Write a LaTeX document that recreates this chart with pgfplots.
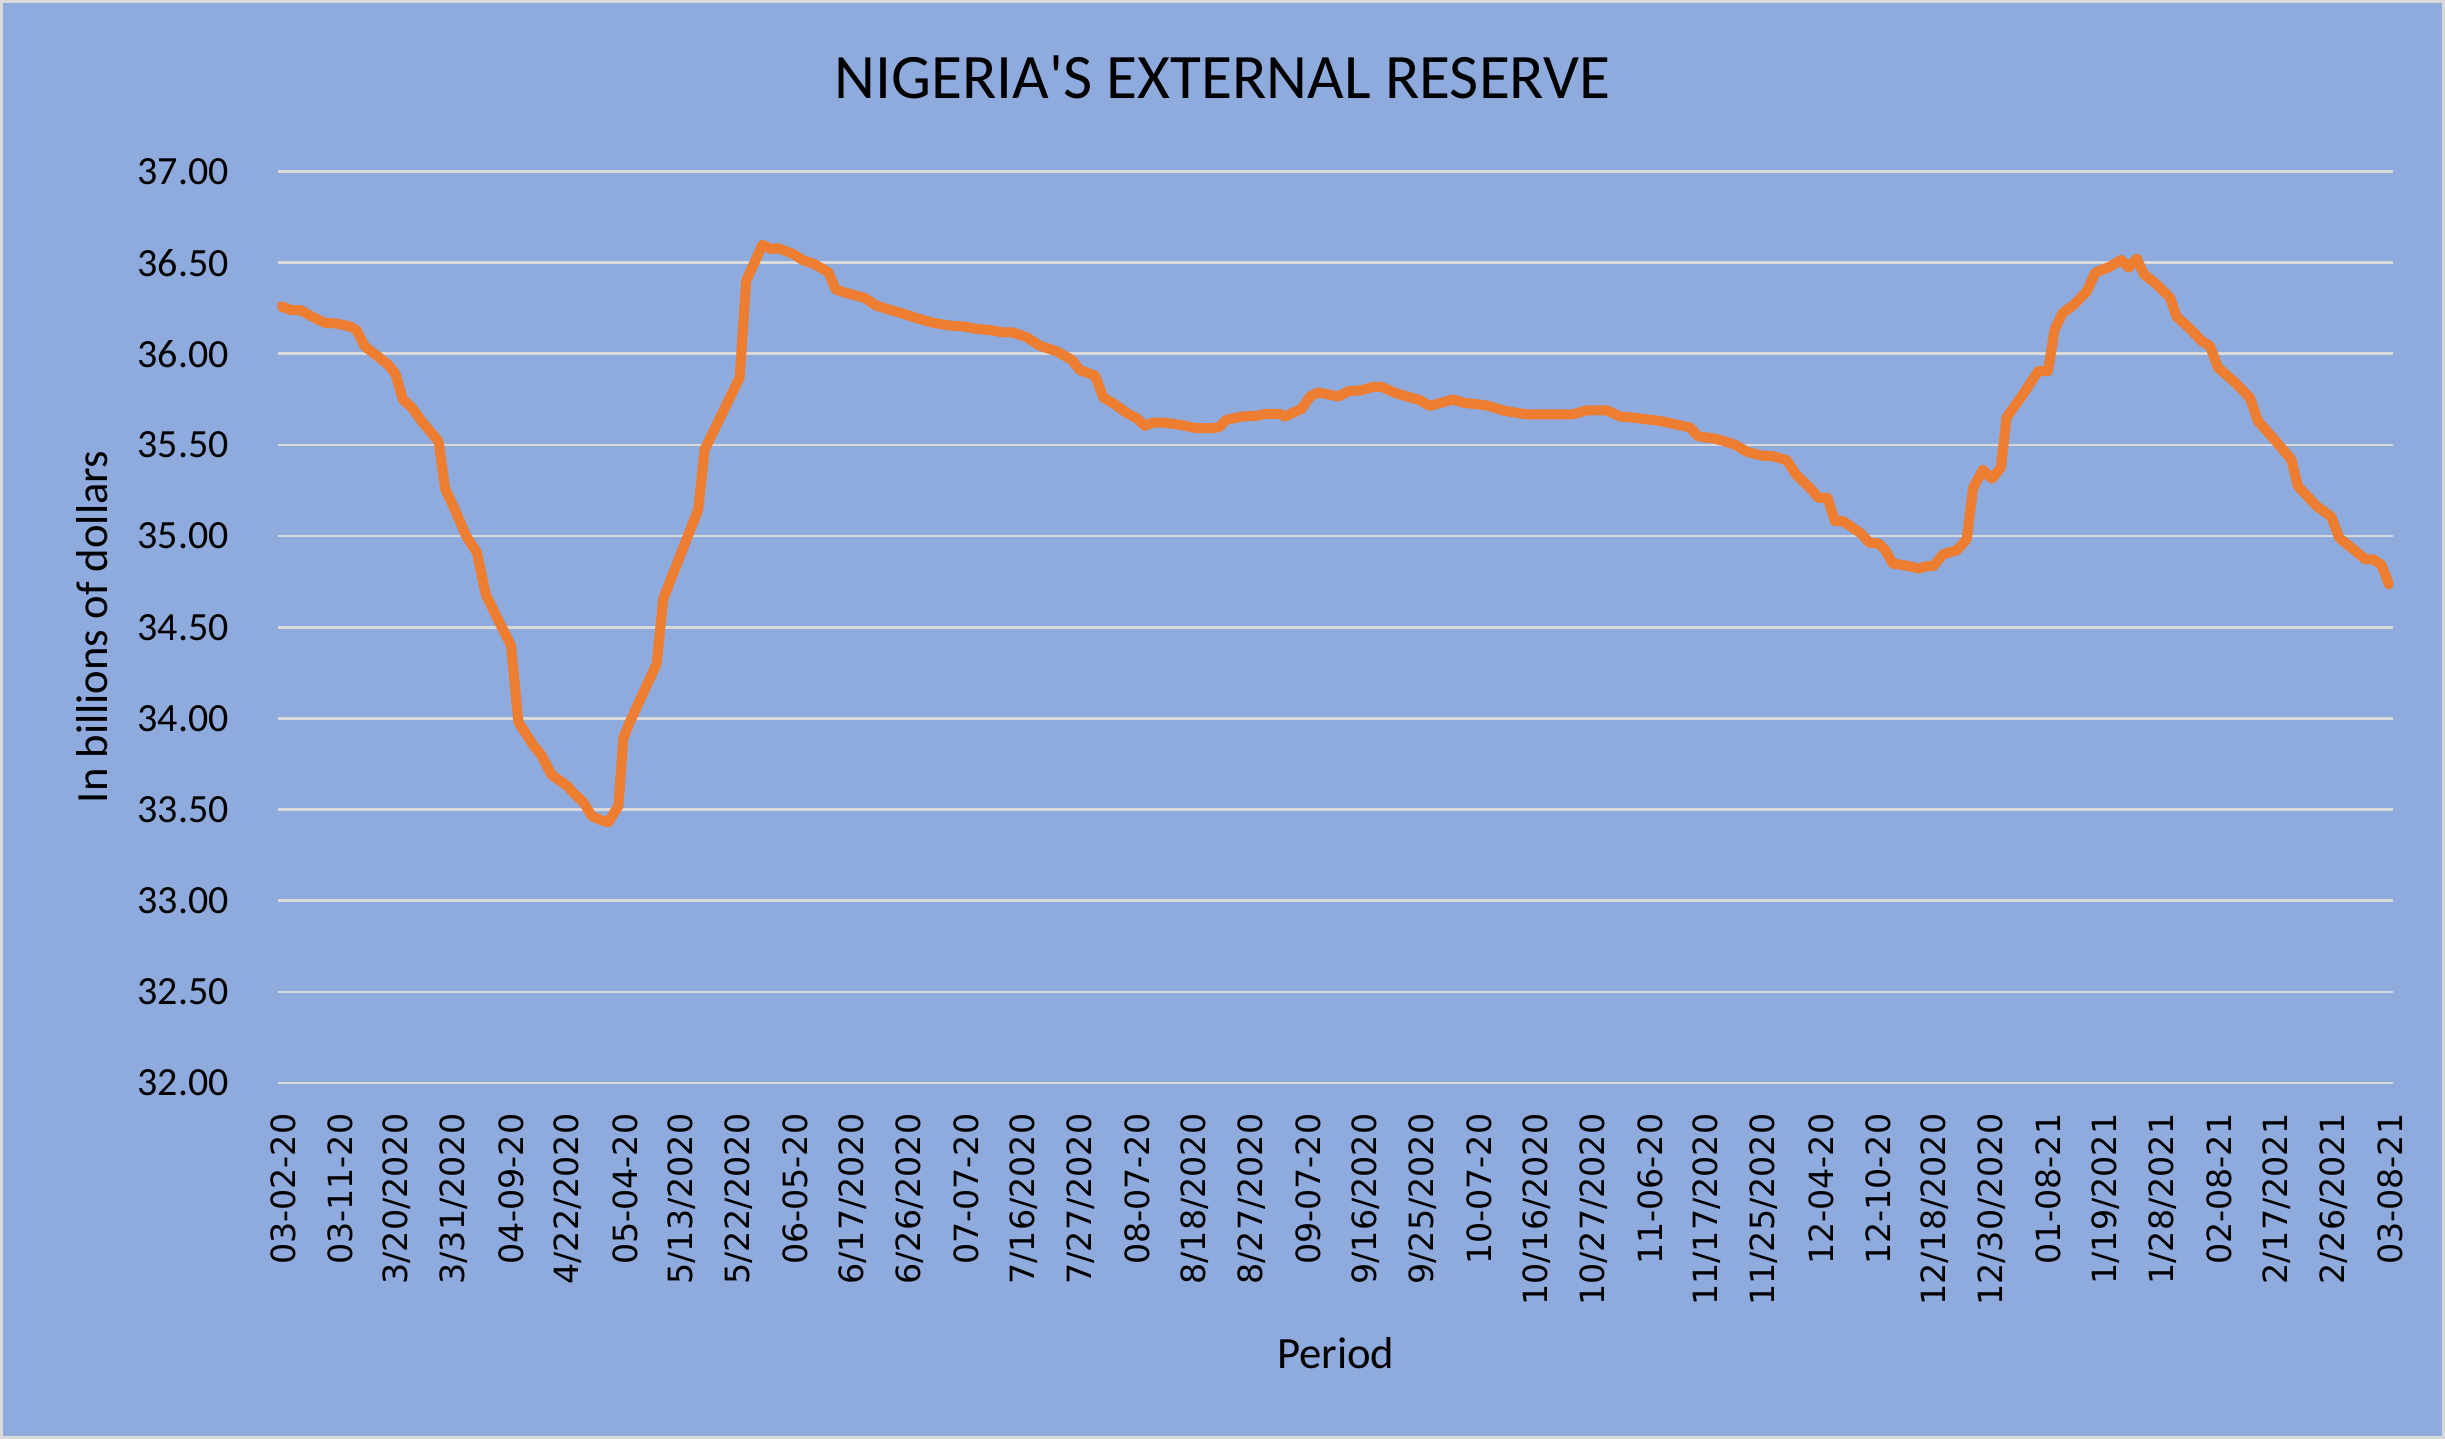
\documentclass[border=0pt]{standalone}
\usepackage{pgfplots}
\pgfplotsset{compat=1.18}
\usepackage{fontspec}
\setmainfont{Carlito}
\newfontfamily\dejavu{DejaVu Sans}
\definecolor{bgblue}{HTML}{8FAADC}
\definecolor{gridgray}{HTML}{D9D9D9}
\definecolor{reserveorange}{HTML}{ED7D31}

\begin{document}
\begin{tikzpicture}
\fill[bgblue] (0,0) rectangle (733.5pt,431.7pt);
\begin{axis}[
  at={(83.25pt,106.8pt)}, anchor=south west,
  scale only axis, width=634.65pt, height=273.45pt,
  xmin=0, xmax=260, ymin=32, ymax=37,
  axis line style={draw=none},
  tick style={draw=none},
  major tick length=0pt,
  ytick={32,32.5,33,33.5,34,34.5,35,35.5,36,36.5,37},
  ymajorgrids,
  grid style={gridgray, line width=0.8pt},
  yticklabel style={/pgf/number format/fixed, /pgf/number format/fixed zerofill,
    /pgf/number format/precision=2, /pgf/number format/assume math mode=true,
    font=\fontsize{12}{14}\selectfont, inner sep=0pt, anchor=east, xshift=-14.4pt},
  xtick={0.7,7.7,...,259.7},
  xticklabels={03-02-20,03-11-20,3/20/2020,3/31/2020,04-09-20,4/22/2020,05-04-20,5/13/2020,5/22/2020,06-05-20,6/17/2020,6/26/2020,07-07-20,7/16/2020,7/27/2020,08-07-20,8/18/2020,8/27/2020,09-07-20,9/16/2020,9/25/2020,10-07-20,10/16/2020,10/27/2020,11-06-20,11/17/2020,11/25/2020,12-04-20,12-10-20,12/18/2020,12/30/2020,01-08-21,1/19/2021,1/28/2021,02-08-21,2/17/2021,2/26/2021,03-08-21},
  xticklabel style={rotate=90, anchor=east, inner sep=0pt, font=\dejavu\fontsize{10}{12}\selectfont},
  xticklabel shift=9pt,
]
\addplot[reserveorange, line width=3pt, line join=round, line cap=round] coordinates {
(0.45,36.26) (1.7,36.24) (2.8,36.24) (4.2,36.205) (5.8,36.17) (7.3,36.166) (8.9,36.15) (9.7,36.13)
(10.75,36.04) (12.2,35.99) (13.6,35.94) (14.5,35.89) (15.4,35.75) (16.5,35.705) (17.9,35.62) (19.8,35.52)
(20.6,35.26) (21.8,35.145) (23.2,35.0) (24.5,34.91) (25.6,34.68) (26.9,34.56) (28.7,34.40) (29.6,33.98)
(31.4,33.855) (32.4,33.80) (33.7,33.69) (35.6,33.63) (36.4,33.59) (37.6,33.54) (38.6,33.465) (39.6,33.445)
(40.65,33.43) (41.9,33.52) (42.5,33.89) (43.3,33.98) (46.6,34.30) (47.4,34.655) (51.7,35.145) (52.5,35.475)
(56.8,35.87) (57.6,36.40) (59.6,36.598) (60.7,36.574) (61.5,36.58) (63.4,36.547) (64.6,36.513) (65.9,36.494)
(67.7,36.447) (68.6,36.353) (69.9,36.334) (72.2,36.306) (73.6,36.264) (75.0,36.245) (76.9,36.22) (78.5,36.196)
(80.6,36.17) (82.6,36.155) (84.3,36.15) (86.0,36.136) (87.6,36.13) (89.2,36.117) (90.4,36.117) (92.1,36.09)
(93.7,36.044) (95.8,36.013) (97.6,35.967) (98.6,35.912) (100.5,35.879) (101.5,35.76) (102.8,35.726) (104.4,35.675)
(105.6,35.647) (106.6,35.605) (107.6,35.623) (108.9,35.623) (111.1,35.609) (112.9,35.592) (115.0,35.592) (115.8,35.60)
(116.6,35.638) (118.6,35.656) (120.3,35.66) (121.5,35.671) (123.2,35.67) (123.8,35.656) (125.9,35.70) (126.9,35.766)
(127.9,35.788) (130.4,35.766) (131.6,35.795) (133.2,35.80) (134.7,35.819) (135.7,35.819) (137.5,35.783) (140.4,35.746)
(141.6,35.714) (144.5,35.75) (145.7,35.732) (148.6,35.717) (150.8,35.687) (153.5,35.668) (159.2,35.668) (160.9,35.69)
(163.4,35.69) (165.0,35.656) (166.6,35.65) (169.9,35.632) (173.6,35.596) (174.6,35.547) (176.5,35.536) (177.7,35.522)
(179.3,35.498) (180.6,35.462) (182.6,35.44) (183.7,35.44) (185.5,35.416) (186.6,35.339) (188.3,35.266) (189.4,35.21)
(190.5,35.21) (191.4,35.082) (192.4,35.082) (194.5,35.018) (195.7,34.963) (196.8,34.96) (197.6,34.923) (198.5,34.85)
(200.6,34.835) (201.7,34.822) (202.7,34.835) (203.5,34.835) (204.7,34.90) (206.4,34.923) (207.6,34.982) (208.4,35.266)
(209.6,35.363) (210.7,35.315) (211.8,35.375) (212.5,35.65) (214.4,35.77) (216.4,35.905) (217.6,35.905) (218.4,36.133)
(219.4,36.224) (220.8,36.27) (222.4,36.345) (223.4,36.445) (225.2,36.478) (226.6,36.515) (227.5,36.473) (228.5,36.522)
(229.4,36.436) (230.8,36.387) (232.6,36.308) (233.4,36.204) (234.9,36.144) (236.5,36.07) (237.5,36.043) (238.5,35.924)
(240.6,35.842) (242.4,35.76) (243.4,35.632) (246.1,35.494) (247.5,35.42) (248.3,35.275) (250.6,35.165) (252.4,35.107)
(253.4,34.99) (255.1,34.928) (256.6,34.873) (257.6,34.873) (258.6,34.84) (259.5,34.736)
};
\end{axis}
\node[font=\fontsize{19}{22}\selectfont, inner sep=0pt] at (366.75pt,408.6pt) {NIGERIA\textquotesingle S EXTERNAL RESERVE};
\node[rotate=90, font=\fontsize{13.4}{16}\selectfont, inner sep=0pt] at (27.6pt,243.6pt) {In billions of dollars};
\node[font=\fontsize{13.4}{16}\selectfont, inner sep=0pt] at (400.7pt,25.8pt) {Period};
\draw[gridgray, line width=0.9pt] (0.45pt,0.45pt) rectangle (733.05pt,431.25pt);
\pgfresetboundingbox
\useasboundingbox (0,0) rectangle (733.5pt,431.7pt);
\end{tikzpicture}
\end{document}
